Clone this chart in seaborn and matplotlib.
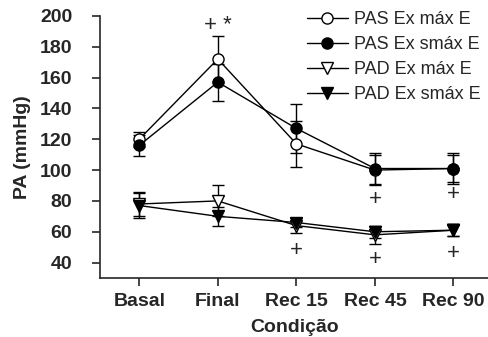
import numpy as np
import pandas as pd
import matplotlib
matplotlib.use('Agg')
import matplotlib.pyplot as plt
import seaborn as sns
from matplotlib.lines import Line2D

# Data
condicoes = ['Basal', 'Final', 'Rec 15', 'Rec 45', 'Rec 90']
pas_max = [120, 172, 117, 100, 101]
pas_max_err = [5, 15, 15, 10, 9]
pas_smax = [116, 157, 127, 101, 101]
pas_smax_err = [7, 12, 16, 10, 10]
pad_max = [78, 80, 64, 58, 61]
pad_max_err = [8, 10, 5, 6, 4]
pad_smax = [77, 70, 66, 60, 61]
pad_smax_err = [8, 6, 3, 4, 4]

series = ['PAS Ex máx E', 'PAS Ex smáx E', 'PAD Ex máx E', 'PAD Ex smáx E']
values = [pas_max, pas_smax, pad_max, pad_smax]
errors = [pas_max_err, pas_smax_err, pad_max_err, pad_smax_err]
markers = ['o', 'o', 'v', 'v']
fills = ['white', 'black', 'white', 'black']

# significance marks (x index, y value, text)
marks_x = [1, 3, 4, 2, 3, 4]
marks_y = [194, 81, 84, 48, 42, 46]
marks_txt = ['+ *', '+', '+', '+', '+', '+']

sns.set_style('ticks')
plt.rcParams['font.family'] = ['Liberation Sans', 'DejaVu Sans']

rows = []
for name, vals in zip(series, values):
    for i, v in enumerate(vals):
        rows.append({'pos': i, 'valor': v, 'serie': name})
df = pd.DataFrame(rows)

fig = plt.figure(figsize=(4.89, 3.37), dpi=100)
ax = fig.add_axes([0.2045, 0.175, 0.795, 0.778])

# error bars first, then lines and markers
for vals, errs in zip(values, errors):
    ax.errorbar(range(len(vals)), vals, yerr=errs, fmt='none', ecolor='black',
                elinewidth=1, capsize=4, capthick=1, zorder=2)

sns.lineplot(data=df, x='pos', y='valor', hue='serie', style='serie',
             palette=['black'] * 4, markers=dict(zip(series, markers)),
             dashes=False, linewidth=1, markersize=0, legend=False, ax=ax, zorder=3)

for vals, m, fc in zip(values, markers, fills):
    ax.plot(range(len(vals)), vals, linestyle='none', marker=m, markersize=8,
            markerfacecolor=fc, markeredgecolor='black', markeredgewidth=1, zorder=4)

for x, y, t in zip(marks_x, marks_y, marks_txt):
    ax.text(x, y, t, ha='center', va='center', fontsize=16)

ax.set_xlim(-0.5, 4.45)
ax.set_ylim(30, 200)
ax.set_xticks(range(len(condicoes)))
ax.set_xticklabels(condicoes, fontsize=14, fontweight='bold')
ax.set_yticks(range(40, 201, 20))
ax.tick_params(axis='y', labelsize=14, length=6, width=1.2, pad=14)
ax.tick_params(axis='x', length=6, width=1.2, pad=5)
for lab in ax.get_yticklabels():
    lab.set_fontweight('bold')
ax.set_xlabel('Condição', fontsize=14, fontweight='bold', labelpad=6)
ax.set_ylabel('PA (mmHg)', fontsize=14, fontweight='bold', labelpad=6)
sns.despine(ax=ax)
for s in ['left', 'bottom']:
    ax.spines[s].set_linewidth(1.2)

handles = [Line2D([0], [0], color='black', lw=1, marker=m, markersize=8,
                  markerfacecolor=fc, markeredgecolor='black')
           for m, fc in zip(markers, fills)]
ax.legend(handles, series, loc='upper right', bbox_to_anchor=(1.02, 1.08),
          frameon=False, fontsize=13, handlelength=2.3, labelspacing=0.45,
          handletextpad=0.3)

fig.savefig('out.png', dpi=100)
